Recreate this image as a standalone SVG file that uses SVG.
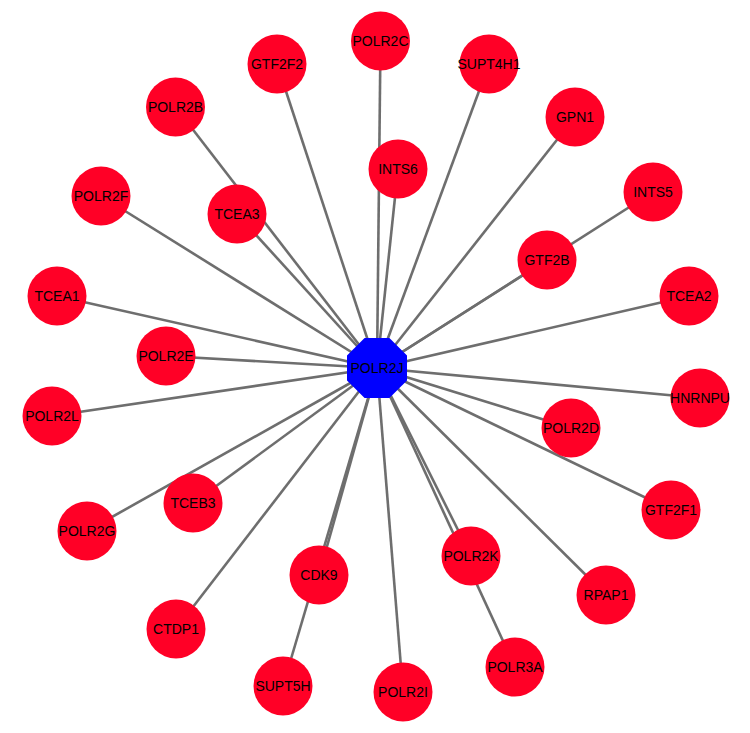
<svg xmlns="http://www.w3.org/2000/svg" width="750" height="733" viewBox="0 0 750 733">
<style>
.e{stroke:#6e6e6e;stroke-width:2.6;fill:none}
.n circle{fill:#ff0026}
.c polygon{fill:#0000ff}
text{font-family:"Liberation Sans",Arial,sans-serif;font-size:14px;fill:#000;text-anchor:middle;dominant-baseline:central}
</style>
<rect width="750" height="733" fill="#fff"/>
<g id="edges">
<line class="e" x1="377" y1="368" x2="380.5" y2="41"/>
<line class="e" x1="377" y1="368" x2="277" y2="64"/>
<line class="e" x1="377" y1="368" x2="489" y2="64"/>
<line class="e" x1="377" y1="368" x2="175.5" y2="107"/>
<line class="e" x1="377" y1="368" x2="575" y2="117"/>
<line class="e" x1="377" y1="368" x2="398" y2="169"/>
<line class="e" x1="377" y1="368" x2="101" y2="196"/>
<line class="e" x1="377" y1="368" x2="237" y2="214"/>
<line class="e" x1="377" y1="368" x2="653" y2="192"/>
<line class="e" x1="377" y1="368" x2="547" y2="260"/>
<line class="e" x1="377" y1="368" x2="57" y2="296"/>
<line class="e" x1="377" y1="368" x2="689" y2="296"/>
<line class="e" x1="377" y1="368" x2="166" y2="356"/>
<line class="e" x1="377" y1="368" x2="700" y2="398"/>
<line class="e" x1="377" y1="368" x2="52" y2="416"/>
<line class="e" x1="377" y1="368" x2="571" y2="428"/>
<line class="e" x1="377" y1="368" x2="193" y2="503"/>
<line class="e" x1="377" y1="368" x2="671" y2="510"/>
<line class="e" x1="377" y1="368" x2="87" y2="531"/>
<line class="e" x1="377" y1="368" x2="471" y2="556"/>
<line class="e" x1="377" y1="368" x2="319" y2="575"/>
<line class="e" x1="377" y1="368" x2="606" y2="595"/>
<line class="e" x1="377" y1="368" x2="176" y2="629"/>
<line class="e" x1="377" y1="368" x2="515" y2="667"/>
<line class="e" x1="377" y1="368" x2="283" y2="686"/>
<line class="e" x1="377" y1="368" x2="403" y2="692"/>
</g>
<g id="POLR2C" class="n"><circle cx="380.5" cy="41" r="29.5"/><text x="380.5" y="41">POLR2C</text></g>
<g id="GTF2F2" class="n"><circle cx="277" cy="64" r="29.5"/><text x="277" y="64">GTF2F2</text></g>
<g id="SUPT4H1" class="n"><circle cx="489" cy="64" r="29.5"/><text x="489" y="64">SUPT4H1</text></g>
<g id="POLR2B" class="n"><circle cx="175.5" cy="107" r="29.5"/><text x="175.5" y="107">POLR2B</text></g>
<g id="GPN1" class="n"><circle cx="575" cy="117" r="29.5"/><text x="575" y="117">GPN1</text></g>
<g id="INTS6" class="n"><circle cx="398" cy="169" r="29.5"/><text x="398" y="169">INTS6</text></g>
<g id="POLR2F" class="n"><circle cx="101" cy="196" r="29.5"/><text x="101" y="196">POLR2F</text></g>
<g id="TCEA3" class="n"><circle cx="237" cy="214" r="29.5"/><text x="237" y="214">TCEA3</text></g>
<g id="INTS5" class="n"><circle cx="653" cy="192" r="29.5"/><text x="653" y="192">INTS5</text></g>
<g id="GTF2B" class="n"><circle cx="547" cy="260" r="29.5"/><text x="547" y="260">GTF2B</text></g>
<g id="TCEA1" class="n"><circle cx="57" cy="296" r="29.5"/><text x="57" y="296">TCEA1</text></g>
<g id="TCEA2" class="n"><circle cx="689" cy="296" r="29.5"/><text x="689" y="296">TCEA2</text></g>
<g id="POLR2E" class="n"><circle cx="166" cy="356" r="29.5"/><text x="166" y="356">POLR2E</text></g>
<g id="HNRNPU" class="n"><circle cx="700" cy="398" r="29.5"/><text x="700" y="398">HNRNPU</text></g>
<g id="POLR2L" class="n"><circle cx="52" cy="416" r="29.5"/><text x="52" y="416">POLR2L</text></g>
<g id="POLR2D" class="n"><circle cx="571" cy="428" r="29.5"/><text x="571" y="428">POLR2D</text></g>
<g id="TCEB3" class="n"><circle cx="193" cy="503" r="29.5"/><text x="193" y="503">TCEB3</text></g>
<g id="GTF2F1" class="n"><circle cx="671" cy="510" r="29.5"/><text x="671" y="510">GTF2F1</text></g>
<g id="POLR2G" class="n"><circle cx="87" cy="531" r="29.5"/><text x="87" y="531">POLR2G</text></g>
<g id="POLR2K" class="n"><circle cx="471" cy="556" r="29.5"/><text x="471" y="556">POLR2K</text></g>
<g id="CDK9" class="n"><circle cx="319" cy="575" r="29.5"/><text x="319" y="575">CDK9</text></g>
<g id="RPAP1" class="n"><circle cx="606" cy="595" r="29.5"/><text x="606" y="595">RPAP1</text></g>
<g id="CTDP1" class="n"><circle cx="176" cy="629" r="29.5"/><text x="176" y="629">CTDP1</text></g>
<g id="POLR3A" class="n"><circle cx="515" cy="667" r="29.5"/><text x="515" y="667">POLR3A</text></g>
<g id="SUPT5H" class="n"><circle cx="283" cy="686" r="29.5"/><text x="283" y="686">SUPT5H</text></g>
<g id="POLR2I" class="n"><circle cx="403" cy="692" r="29.5"/><text x="403" y="692">POLR2I</text></g>
<g id="POLR2J" class="c"><polygon points="364.6,338 389.4,338 407,355.6 407,380.4 389.4,398 364.6,398 347,380.4 347,355.6"/><text x="377" y="368">POLR2J</text></g>
</svg>
